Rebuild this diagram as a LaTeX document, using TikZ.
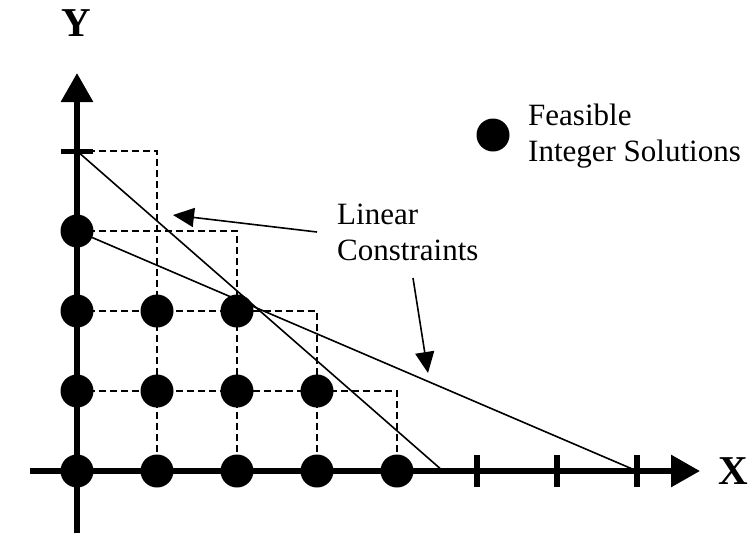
\documentclass[tikz,border=0pt]{standalone}
\usepackage{fontspec}
\setmainfont{Liberation Serif}
\usetikzlibrary{arrows.meta}
\begin{document}
\begin{tikzpicture}[x=1pt,y=-1pt,
  axis/.style={line width=6pt},
  axarrow/.style={line width=6pt,-{Triangle[length=29pt,width=31pt]}},
  tick/.style={line width=6pt},
  grid/.style={dash pattern=on 7pt off 4pt,line width=1.5pt},
  constraint/.style={line width=1.6pt},
  pointer/.style={line width=1.6pt,-{Triangle[length=21pt,width=19pt]}},
  dot/.style={circle,fill=black,inner sep=0pt,minimum size=33pt},
  lbl/.style={font=\fontsize{31}{36}\selectfont,align=left,inner sep=0pt},
  axlbl/.style={font=\fontsize{41}{41}\selectfont\bfseries,inner sep=0pt}]
\useasboundingbox (0,0) rectangle (750,536);
% grid coordinates
\foreach \i/\px in {0/77,1/157,2/237,3/317,4/397,5/477,6/557,7/637}{
  \foreach \j/\py in {0/471,1/391,2/311,3/231,4/151}{
    \coordinate (g\i\j) at (\px,\py);
  }
}
% dashed staircase
\draw[grid] (g04) -- (g14) -- (g10);
\draw[grid] (g03) -- (g23) -- (g20);
\draw[grid] (g02) -- (g32) -- (g30);
\draw[grid] (g01) -- (g41) -- (g40);
% constraints
\coordinate (steepend) at (443,471);
\draw[constraint] (g04) -- (steepend);
\draw[constraint] (g03) -- (g70);
% axes
\coordinate (ybot) at (77,533);
\coordinate (ytop) at (77,73);
\coordinate (xleft) at (30,471);
\coordinate (xright) at (700,471);
\draw[axarrow] (ybot) -- (ytop);
\draw[axarrow] (xleft) -- (xright);
% ticks
\foreach \i in {5,6,7}{
  \draw[tick] ([yshift=-16pt]g\i0) -- ([yshift=16pt]g\i0);
}
\draw[line width=5pt] ([xshift=-16pt]g04) -- ([xshift=16pt]g04);
% dots
\foreach \i/\j in {0/0,1/0,2/0,3/0,4/0,0/1,1/1,2/1,3/1,0/2,1/2,2/2,0/3}{
  \node[dot] (d\i\j) at (g\i\j) {};
}
% labels
\node[axlbl] (ylab) at (76,23) {Y};
\node[axlbl] (xlab) at (733,471) {X};
\node[dot] (legdot) at (493,135) {};
\node[lbl,anchor=west] (legtxt) at (528,136) {Feasible\\Integer Solutions};
\node[lbl,anchor=west] (lc) at (337,232) {Linear\\Constraints};
% pointers
\coordinate (p1s) at (317,232);
\coordinate (p1e) at (173,215);
\coordinate (p2s) at (413,278);
\coordinate (p2e) at (428,373);
\draw[pointer] (p1s) -- (p1e);
\draw[pointer] (p2s) -- (p2e);
\end{tikzpicture}
\end{document}
